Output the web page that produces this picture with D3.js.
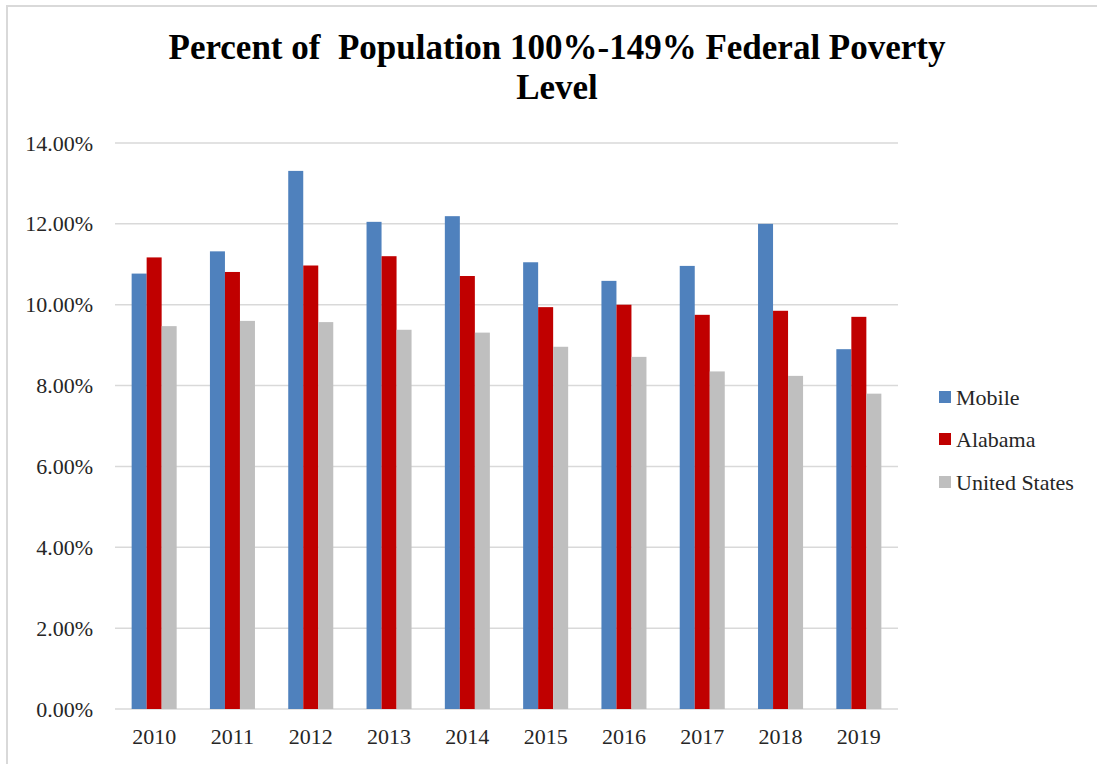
<!DOCTYPE html>
<html><head><meta charset="utf-8">
<script src="https://cdn.jsdelivr.net/npm/d3@7/dist/d3.min.js"></script>
<style>body{margin:0;background:#fff;} svg{display:block;}</style>
</head><body>
<svg id="chart" width="1097" height="764"></svg>
<script>
const categories = ["2010","2011","2012","2013","2014","2015","2016","2017","2018","2019"];
const seriesNames = ["Mobile","Alabama","United States"];
const seriesColors = ["#4f81bd","#c00000","#bfbfbf"];
const mobile = [10.77,11.32,13.31,12.05,12.19,11.05,10.59,10.96,12.00,8.90];
const alabama = [11.17,10.81,10.97,11.20,10.71,9.94,10.00,9.75,9.85,9.70];
const unitedStates = [9.47,9.60,9.57,9.38,9.31,8.96,8.71,8.35,8.24,7.80];
const yTicks = [0,2,4,6,8,10,12,14];
const titleLines = ["Percent of  Population 100%-149% Federal Poverty","Level"];

const seriesValues = [mobile, alabama, unitedStates];
const svg = d3.select("#chart");
const font = "'Liberation Serif', 'DejaVu Serif', serif";
const labelSize = 22;

// chart border
svg.append("path").attr("d","M7,764 L7,6 L1097,6").attr("fill","none").attr("stroke","#d9d9d9").attr("stroke-width",2);

const pLeft = 115, pRight = 898, pTop = 143, pBottom = 709;
const x = d3.scaleBand().domain(categories).range([pLeft,pRight]).paddingInner(0.425).paddingOuter(0.2125);
const xs = d3.scaleBand().domain(seriesNames).range([0,x.bandwidth()]);
const y = d3.scaleLinear().domain([0,14]).range([pBottom,pTop]);

// gridlines
svg.append("g").selectAll("line").data(yTicks).join("line")
  .attr("x1",pLeft).attr("x2",pRight)
  .attr("y1",d=>y(d)).attr("y2",d=>y(d))
  .attr("stroke","#d9d9d9").attr("stroke-width",1.5);

// y axis labels
const yAxis = d3.axisLeft(y).tickValues(yTicks).tickSize(0).tickPadding(22).tickFormat(d=>d.toFixed(2)+"%");
const gy = svg.append("g").attr("transform",`translate(${pLeft},0)`).call(yAxis);
gy.select(".domain").remove();
gy.selectAll("text").attr("font-family",font).attr("font-size",labelSize).attr("fill","#262626");

// x axis labels
const xAxis = d3.axisBottom(x).tickSize(0).tickPadding(19);
const gx = svg.append("g").attr("transform",`translate(0,${pBottom})`).call(xAxis);
gx.select(".domain").remove();
gx.selectAll("text").attr("font-family",font).attr("font-size",labelSize).attr("fill","#262626");

// bars
seriesNames.forEach((s,si)=>{
  svg.append("g").selectAll("rect").data(seriesValues[si]).join("rect")
    .attr("x",(d,i)=>x(categories[i])+xs(s))
    .attr("width",xs.bandwidth())
    .attr("y",d=>y(d))
    .attr("height",d=>y(0)-y(d))
    .attr("fill",seriesColors[si]);
});

// title
const t = svg.append("text").attr("text-anchor","middle").attr("font-family",font)
  .attr("font-weight","bold").attr("fill","#000").style("white-space","pre");
t.append("tspan").attr("x",557).attr("y",59).attr("font-size",35).text(titleLines[0]);
t.append("tspan").attr("x",557).attr("y",99).attr("font-size",35).text(titleLines[1]);

// legend
const lg = svg.append("g");
const legendY = [397,439,482];
seriesNames.forEach((s,i)=>{
  lg.append("rect").attr("x",939).attr("y",legendY[i]-6).attr("width",12).attr("height",12).attr("fill",seriesColors[i]);
  lg.append("text").attr("x",956).attr("y",legendY[i]).attr("dy","0.35em")
    .attr("font-family",font).attr("font-size",labelSize).attr("fill","#262626").text(s);
});
</script>
</body></html>
